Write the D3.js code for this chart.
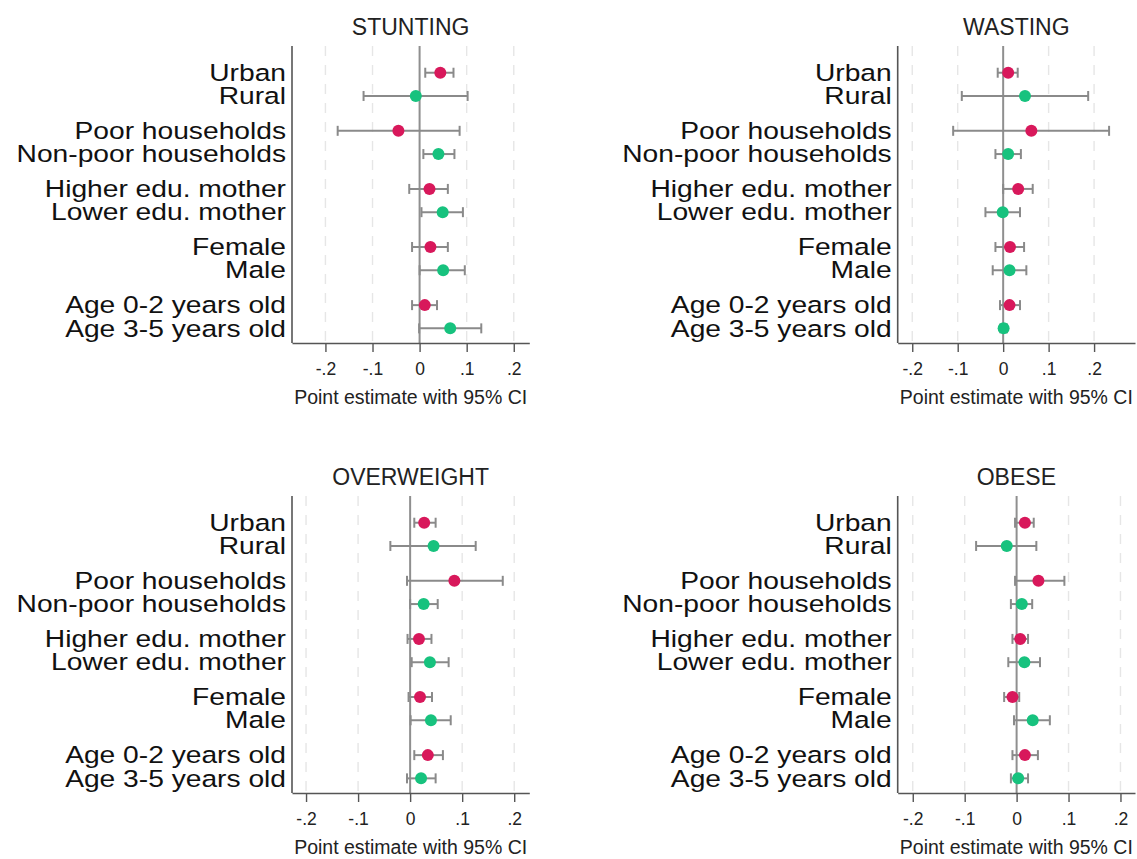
<!DOCTYPE html>
<html>
<head>
<meta charset="utf-8">
<script src="https://cdn.jsdelivr.net/npm/d3@7/dist/d3.min.js"></script>
<style>
  html, body { margin: 0; padding: 0; background: #fff; }
  svg { display: block; font-family: "Liberation Sans", Arial, sans-serif; }
</style>
</head>
<body>
<svg id="chart" width="1137" height="859"></svg>
<script>
// Subgroup labels, listed top to bottom (pairs of contrasting groups)
const categories = [
  "Urban", "Rural",
  "Poor households", "Non-poor households",
  "Higher edu. mother", "Lower edu. mother",
  "Female", "Male",
  "Age 0-2 years old", "Age 3-5 years old"
];

const tickValues = [-0.2, -0.1, 0, 0.1, 0.2];
const tickLabels = ["-.2", "-.1", "0", ".1", ".2"];
const axisTitle = "Point estimate with 95% CI";

// STUNTING
const stuntingEst = [0.044, -0.008, -0.045, 0.040, 0.021, 0.049, 0.023, 0.050, 0.011, 0.065];
const stuntingLo  = [0.012, -0.119, -0.174, 0.008, -0.022, 0.004, -0.016, 0.000, -0.016, -0.001];
const stuntingHi  = [0.072, 0.102, 0.085, 0.074, 0.060, 0.092, 0.060, 0.096, 0.037, 0.131];

// WASTING
const wastingEst = [0.011, 0.048, 0.062, 0.011, 0.033, -0.001, 0.015, 0.014, 0.014, 0.001];
const wastingLo  = [-0.012, -0.091, -0.110, -0.017, 0.000, -0.039, -0.017, -0.023, -0.007, -0.006];
const wastingHi  = [0.032, 0.187, 0.233, 0.039, 0.065, 0.037, 0.046, 0.051, 0.037, 0.008];

// OVERWEIGHT
const overweightEst = [0.027, 0.045, 0.085, 0.026, 0.017, 0.038, 0.019, 0.040, 0.034, 0.021];
const overweightLo  = [0.008, -0.038, -0.006, 0.000, -0.005, 0.003, -0.003, 0.001, 0.008, -0.006];
const overweightHi  = [0.049, 0.126, 0.178, 0.053, 0.041, 0.074, 0.042, 0.078, 0.063, 0.049];

// OBESE
const obeseEst = [0.016, -0.019, 0.042, 0.010, 0.007, 0.015, -0.008, 0.031, 0.016, 0.003];
const obeseLo  = [-0.003, -0.078, -0.003, -0.011, -0.008, -0.016, -0.024, -0.005, -0.008, -0.011];
const obeseHi  = [0.033, 0.038, 0.092, 0.030, 0.022, 0.045, 0.005, 0.064, 0.041, 0.022];

// Visible x range of each panel
const stuntingDomain   = [-0.271, 0.233];
const wastingDomain    = [-0.232, 0.290];
const overweightDomain = [-0.227, 0.229];
const obeseDomain      = [-0.229, 0.228];

const panels = [
  { title: "STUNTING",   est: stuntingEst,   lo: stuntingLo,   hi: stuntingHi,   domain: stuntingDomain,   left: 292,   top: 46 },
  { title: "WASTING",    est: wastingEst,    lo: wastingLo,    hi: wastingHi,    domain: wastingDomain,    left: 897.7, top: 46 },
  { title: "OVERWEIGHT", est: overweightEst, lo: overweightLo, hi: overweightHi, domain: overweightDomain, left: 292,   top: 496 },
  { title: "OBESE",      est: obeseEst,      lo: obeseLo,      hi: obeseHi,      domain: obeseDomain,      left: 897.7, top: 496 }
];

const plotW = 237.3;
const plotH = 297;
const colorFirst = "#d8185b";
const colorSecond = "#17c27e";

// Each pair sits together, with a half-row gap between pairs
const slot = i => i + Math.floor(i / 2) * 0.5;

const svg = d3.select("#chart");

panels.forEach(p => {
  const g = svg.append("g").attr("transform", `translate(${p.left},${p.top})`);
  const x = d3.scaleLinear().domain(p.domain).range([0, plotW]);
  const y = d3.scaleLinear().domain([-1.15, 11.63]).range([0, plotH]);

  // dashed grid lines
  g.append("g").selectAll("line")
    .data(tickValues.filter(v => v !== 0))
    .join("line")
    .attr("x1", d => x(d)).attr("x2", d => x(d))
    .attr("y1", 0).attr("y2", plotH)
    .attr("stroke", "#e6e6e6").attr("stroke-width", 1.4)
    .attr("stroke-dasharray", "10,9");

  // reference line at zero
  g.append("line")
    .attr("x1", x(0)).attr("x2", x(0))
    .attr("y1", 0).attr("y2", plotH)
    .attr("stroke", "#8f8f8f").attr("stroke-width", 2);

  // x axis
  const xAxis = d3.axisBottom(x)
    .tickValues(tickValues)
    .tickFormat((d, i) => tickLabels[i])
    .tickSize(9)
    .tickPadding(11)
    .tickSizeOuter(0);
  const ax = g.append("g").attr("transform", `translate(0,${plotH})`).call(xAxis);
  ax.select(".domain").attr("stroke", "#555").attr("stroke-width", 1.6);
  ax.selectAll(".tick line").attr("stroke", "#555").attr("stroke-width", 1.4);
  ax.selectAll(".tick text")
    .attr("font-size", 17.5).attr("fill", "#222")
    .attr("font-family", "'Liberation Sans', Arial, sans-serif");

  // left axis line
  g.append("line")
    .attr("x1", 0).attr("x2", 0).attr("y1", 0).attr("y2", plotH)
    .attr("stroke", "#555").attr("stroke-width", 1.6);

  const rows = categories.map((c, i) => ({
    label: c, est: p.est[i], lo: p.lo[i], hi: p.hi[i], pos: slot(i),
    color: i % 2 === 0 ? colorFirst : colorSecond
  }));

  // confidence intervals
  const ci = g.append("g").attr("stroke", "#8a8a8a").attr("stroke-width", 2).attr("fill", "none");
  ci.selectAll("line.bar").data(rows).join("line").attr("class", "bar")
    .attr("x1", d => x(d.lo)).attr("x2", d => x(d.hi))
    .attr("y1", d => y(d.pos)).attr("y2", d => y(d.pos));
  ci.selectAll("line.capl").data(rows).join("line").attr("class", "capl")
    .attr("x1", d => x(d.lo)).attr("x2", d => x(d.lo))
    .attr("y1", d => y(d.pos) - 5).attr("y2", d => y(d.pos) + 5);
  ci.selectAll("line.caph").data(rows).join("line").attr("class", "caph")
    .attr("x1", d => x(d.hi)).attr("x2", d => x(d.hi))
    .attr("y1", d => y(d.pos) - 5).attr("y2", d => y(d.pos) + 5);

  // point estimates
  g.append("g").selectAll("circle").data(rows).join("circle")
    .attr("cx", d => x(d.est)).attr("cy", d => y(d.pos))
    .attr("r", 6).attr("fill", d => d.color);

  // category labels
  g.append("g").selectAll("text").data(rows).join("text")
    .attr("transform", d => `translate(-6,${y(d.pos)}) scale(1.2,1)`)
    .attr("dy", "0.35em")
    .attr("text-anchor", "end")
    .attr("font-size", 23.5)
    .attr("fill", "#111")
    .text(d => d.label);

  // panel title
  g.append("text")
    .attr("x", plotW / 2).attr("y", -11.3)
    .attr("text-anchor", "middle")
    .attr("font-size", 23).attr("fill", "#222")
    .text(p.title);

  // axis title
  g.append("text")
    .attr("x", plotW / 2).attr("y", plotH + 61)
    .attr("text-anchor", "middle")
    .attr("font-size", 19.5).attr("fill", "#222")
    .text(axisTitle);
});
</script>
</body>
</html>
